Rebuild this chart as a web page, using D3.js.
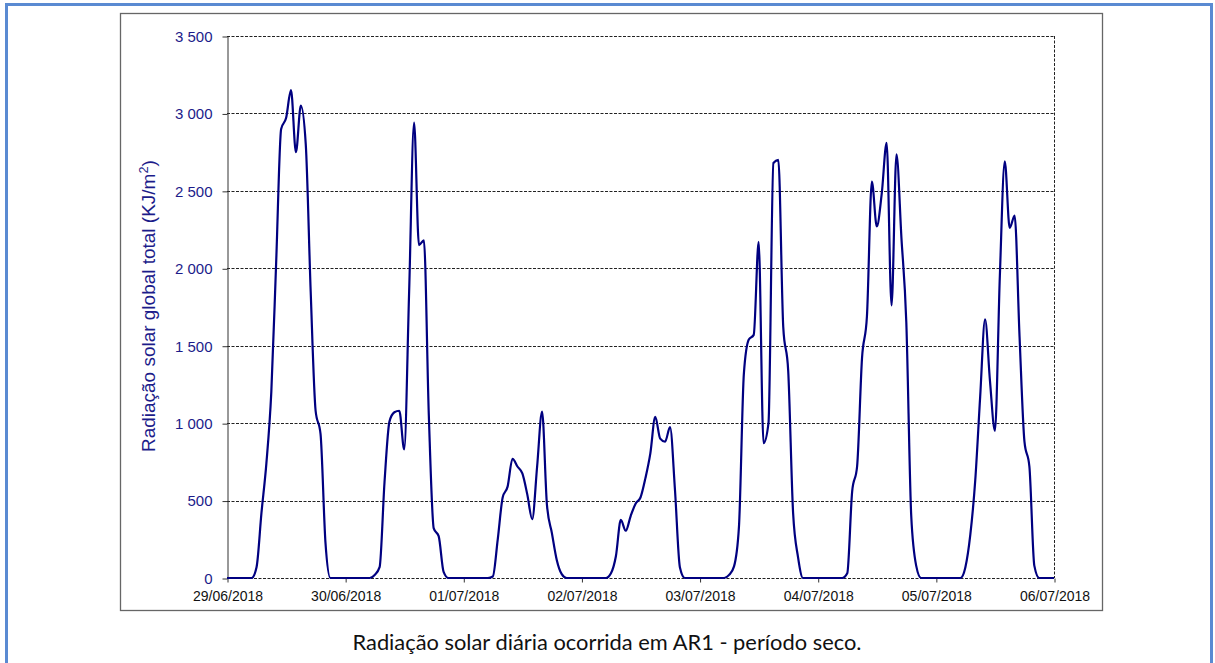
<!DOCTYPE html>
<html>
<head>
<meta charset="utf-8">
<script src="https://cdn.jsdelivr.net/npm/d3@7"></script>
<style>
    body { margin: 0; background: #fff; }
    svg { display: block; }
</style>
</head>
<body>
<script>
// tick labels of the x axis (one per day, 00:00)
const dias = ['29/06/2018', '30/06/2018', '01/07/2018', '02/07/2018',
              '03/07/2018', '04/07/2018', '05/07/2018', '06/07/2018'];

// hourly values (KJ/m2), 24 per day
const dia29_06 = [0, 0, 0, 0, 0, 0, 70, 420, 740, 1200, 2050, 2900, 2970, 3150, 2750, 3050, 2800, 1850, 1080, 930, 230, 0, 0, 0];
const dia30_06 = [0, 0, 0, 0, 0, 0, 20, 70, 620, 1010, 1070, 1080, 830, 1850, 2940, 2150, 2180, 1050, 320, 270, 40, 0, 0, 0];
const dia01_07 = [0, 0, 0, 0, 0, 0, 10, 250, 520, 590, 770, 720, 675, 540, 380, 720, 1075, 470, 290, 115, 25, 0, 0, 0];
const dia02_07 = [0, 0, 0, 0, 0, 0, 30, 140, 375, 305, 400, 480, 520, 645, 805, 1040, 900, 880, 975, 570, 70, 0, 0, 0];
const dia03_07 = [0, 0, 0, 0, 0, 0, 20, 75, 330, 1320, 1540, 1570, 2170, 870, 1000, 2680, 2700, 1620, 1340, 420, 135, 0, 0, 0];
const dia04_07 = [0, 0, 0, 0, 0, 0, 30, 560, 720, 1420, 1690, 2560, 2270, 2480, 2810, 1760, 2735, 2200, 1650, 400, 80, 0, 0, 0];
const dia05_07 = [0, 0, 0, 0, 0, 0, 70, 280, 630, 1170, 1670, 1270, 950, 1950, 2690, 2260, 2340, 1560, 880, 720, 80, 0, 0, 0];

const yTicks = [0, 500, 1000, 1500, 2000, 2500, 3000, 3500];

const azul = '#000080';

function makeChart(svg) {
    // one point per hour, last one at 06/07 00:00
    const serie = [].concat(dia29_06, dia30_06, dia01_07, dia02_07, dia03_07, dia04_07, dia05_07, [0])
        .map((v, i) => [i, v]);

    const scX = d3.scaleLinear().domain([0, 24 * (dias.length - 1)]).range([227, 1054]);
    const scY = d3.scaleLinear().domain([0, 3500]).range([578, 36]);

    // page frame and chart box
    svg.append('rect')
        .attr('x', 6.5).attr('y', 4.5)
        .attr('width', 1205).attr('height', 720)
        .attr('fill', 'none')
        .attr('stroke', '#5a8ad2')
        .attr('stroke-width', 3);

    svg.append('rect')
        .attr('x', 120.5).attr('y', 13.5)
        .attr('width', 982).attr('height', 597)
        .attr('fill', '#fff')
        .attr('stroke', '#666')
        .attr('stroke-width', 1.3);

    // dashed grid + plot border
    svg.append('g')
        .selectAll('line')
        .data(yTicks)
        .enter()
        .append('line')
        .attr('x1', scX.range()[0])
        .attr('x2', scX.range()[1])
        .attr('y1', d => Math.round(scY(d)) + 0.5)
        .attr('y2', d => Math.round(scY(d)) + 0.5)
        .attr('stroke', '#222')
        .attr('stroke-dasharray', '3,1.5');

    svg.append('line')
        .attr('x1', scX.range()[1] + 0.5).attr('x2', scX.range()[1] + 0.5)
        .attr('y1', scY(3500)).attr('y2', scY(0))
        .attr('stroke', '#222')
        .attr('stroke-dasharray', '3,1.5');

    // axes
    const fmt = d3.formatLocale({decimal: ',', thousands: ' ', grouping: [3], currency: ['', '']}).format(',');

    const gy = svg.append('g')
        .attr('transform', 'translate(227.5,0.5)')
        .call(d3.axisLeft(scY).tickValues(yTicks).tickFormat(fmt).tickSizeInner(5).tickSizeOuter(0).tickPadding(10));
    gy.select('.domain').attr('stroke', '#333');
    gy.selectAll('.tick line').attr('stroke', '#333');
    gy.selectAll('text')
        .attr('fill', '#1c1c8a')
        .style('font', '15px "Liberation Sans", Arial, sans-serif');

    const gx = svg.append('g')
        .attr('transform', 'translate(0.5,578.5)')
        .call(d3.axisBottom(scX).tickValues(dias.map((d, i) => i * 24))
            .tickFormat((d, i) => dias[i]).tickSizeInner(4).tickSizeOuter(0).tickPadding(9));
    gx.select('.domain').remove();
    gx.selectAll('.tick line').attr('stroke', '#333');
    gx.selectAll('text')
        .attr('fill', '#111')
        .style('font', '14px "Liberation Sans", Arial, sans-serif');

    // the series
    const line = d3.line()
        .x(d => scX(d[0]))
        .y(d => scY(d[1]))
        .curve(d3.curveMonotoneX);

    svg.append('path')
        .datum(serie)
        .attr('d', line)
        .attr('fill', 'none')
        .attr('stroke', azul)
        .attr('stroke-width', 2.2)
        .attr('stroke-linejoin', 'round');

    // y title, stretched to the length seen in the picture
    const titulo = svg.append('text')
        .attr('fill', '#1c1c8a')
        .style('font', '18px "Liberation Sans", Arial, sans-serif');
    titulo.append('tspan').text('Radiação solar global total (KJ/m');
    titulo.append('tspan').text('2').attr('dy', -7).style('font-size', '12px');
    titulo.append('tspan').text(')').attr('dy', 7);
    const len = titulo.node().getComputedTextLength();
    const k = 292 / len;
    titulo.attr('transform', `translate(155,${306 + len * k / 2}) rotate(-90) scale(${k},1)`);

    // caption under the chart
    svg.append('text')
        .attr('x', 352.5)
        .attr('y', 650)
        .attr('textLength', 509)
        .attr('lengthAdjust', 'spacingAndGlyphs')
        .attr('fill', '#111')
        .style('font', '21px Lato, "Open Sans", sans-serif')
        .text('Radiação solar diária ocorrida em AR1 - período seco.');
}

function main() {
    const svg = d3.select('body')
        .append('svg')
        .attr('width', 1215)
        .attr('height', 663);
    makeChart(svg);
}

main();
</script>
</body>
</html>
